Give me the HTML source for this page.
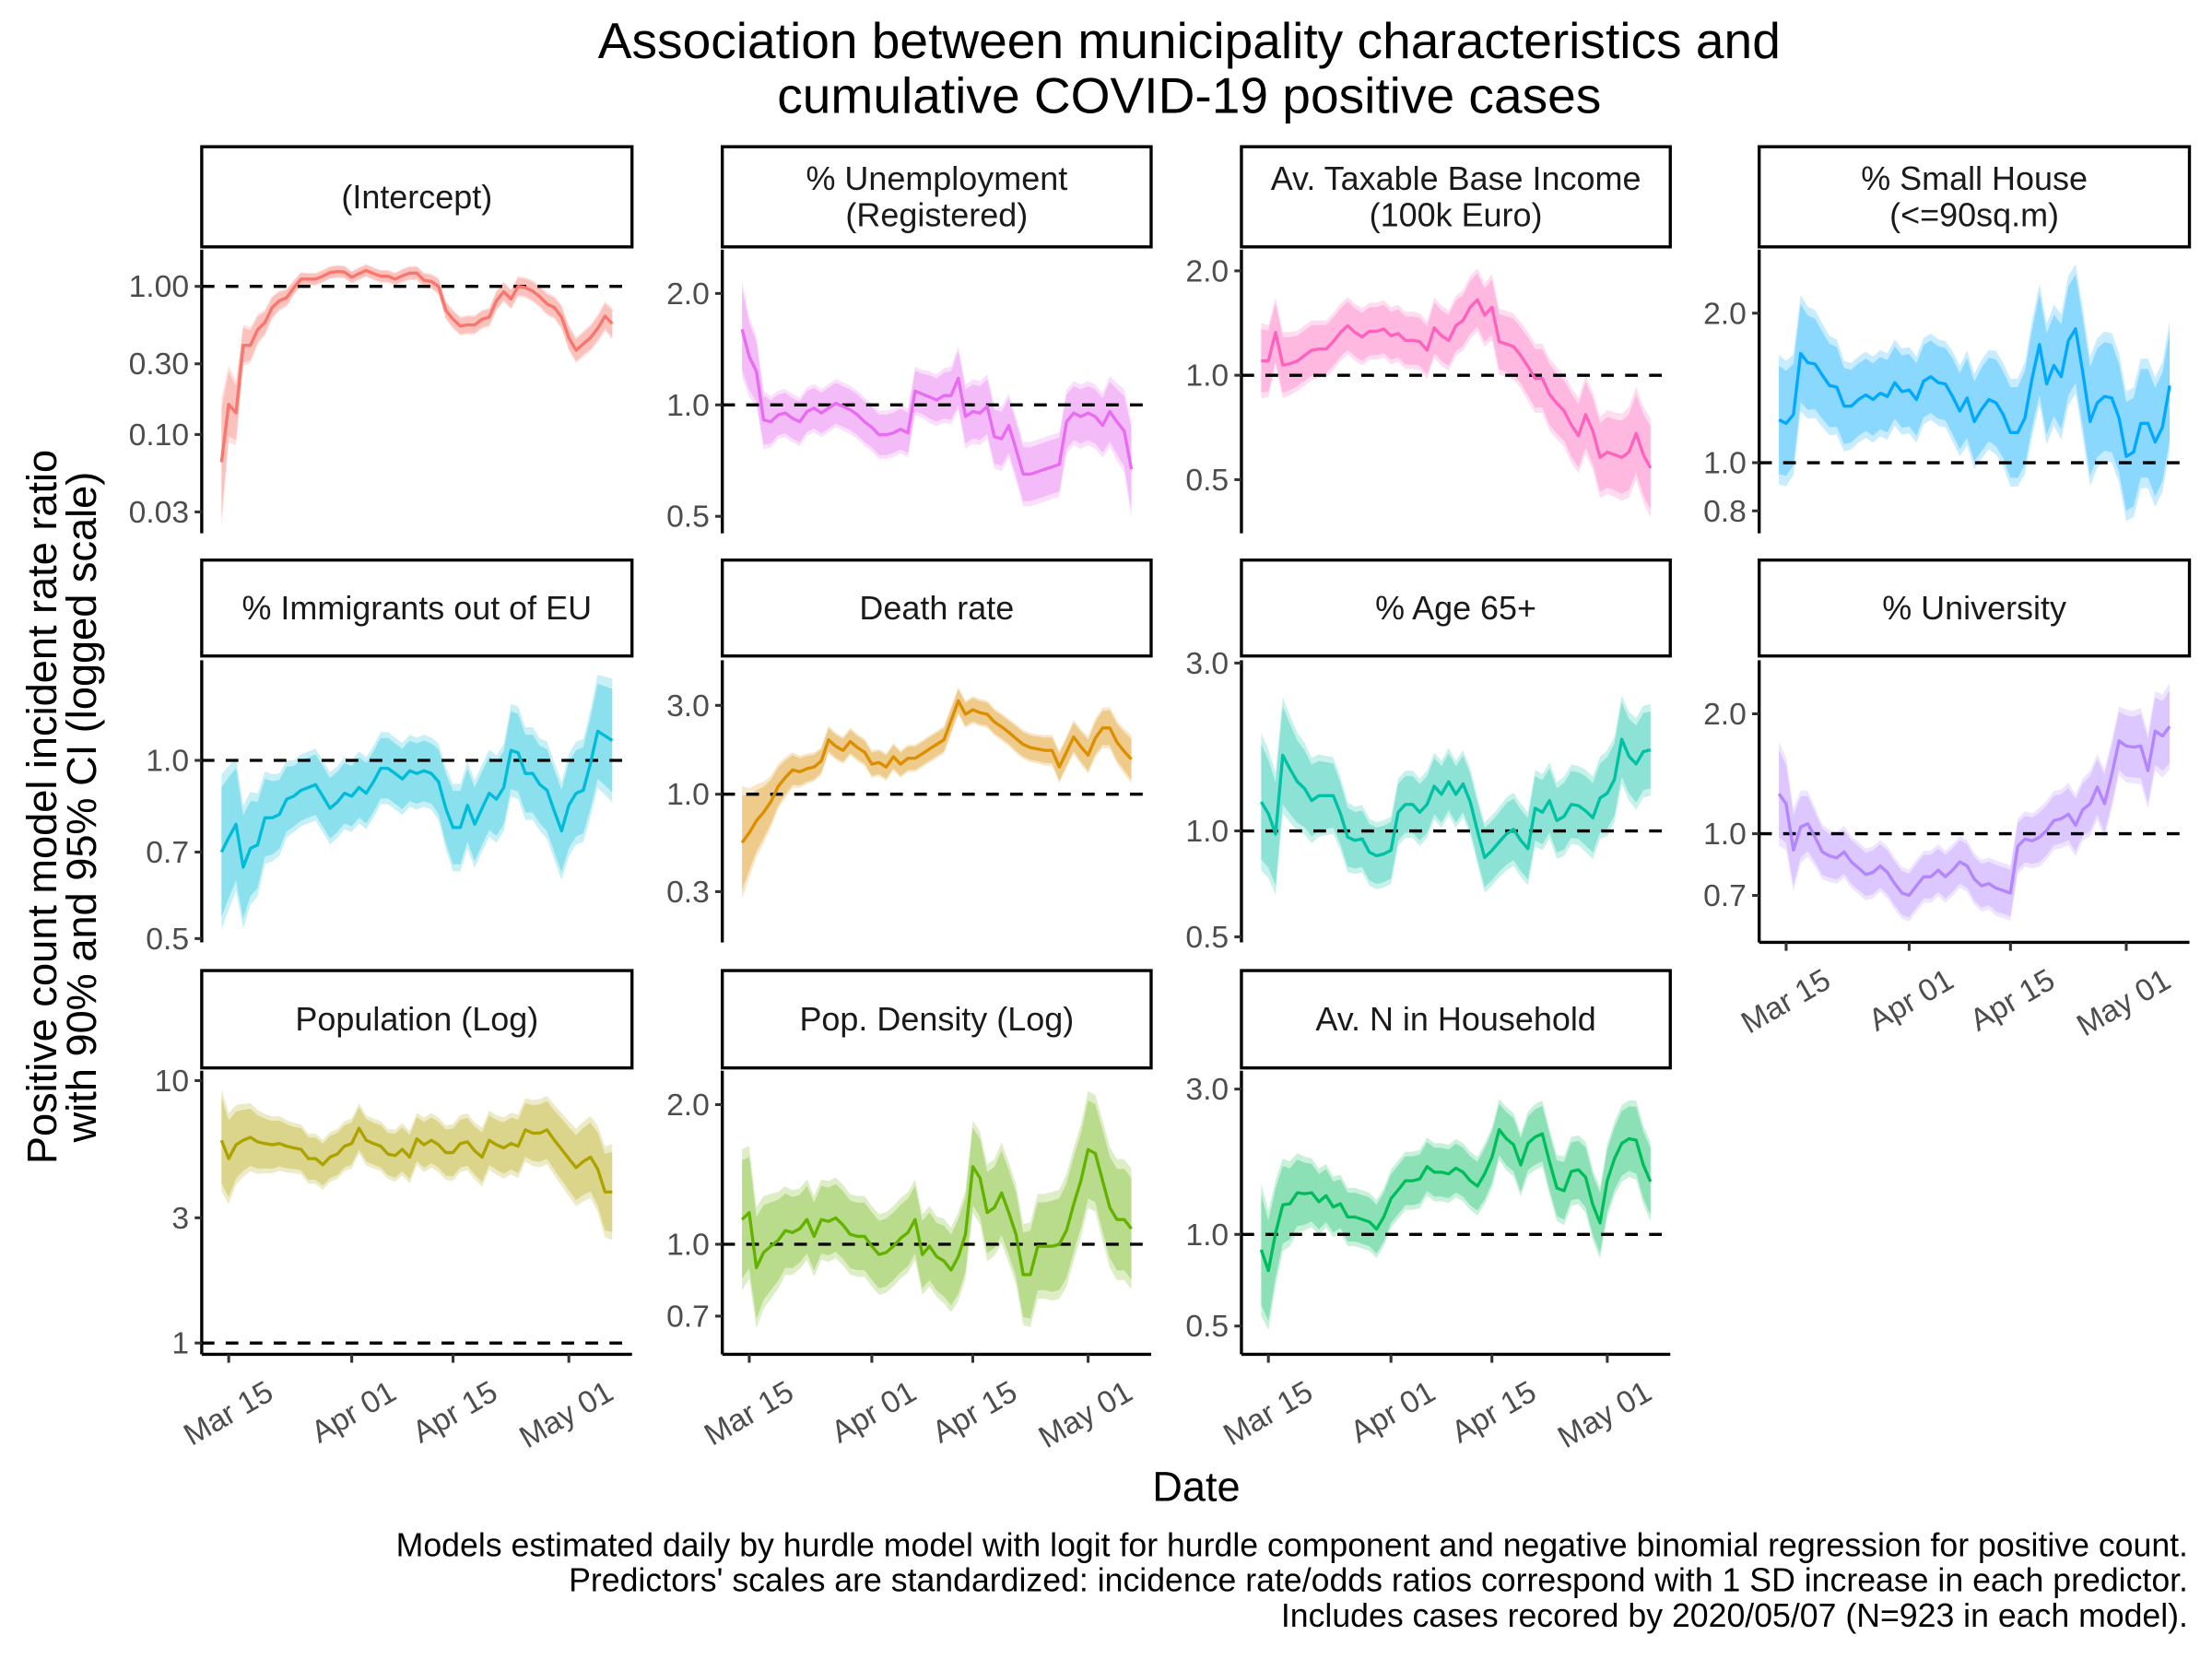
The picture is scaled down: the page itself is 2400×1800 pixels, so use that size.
<!DOCTYPE html>
<html><head><meta charset="utf-8">
<style>
html,body{margin:0;padding:0;background:#fff;}
svg{display:block;font-family:"Liberation Sans",Arial,sans-serif;}
</style></head>
<body>
<svg id="chart" width="2400" height="1800" viewBox="0 0 1568 1176" xmlns="http://www.w3.org/2000/svg">
<rect x="0" y="0" width="1568" height="1176" fill="#fff"/>
<text x="843" y="41" font-size="36" text-anchor="middle">Association between municipality characteristics and</text>
<text x="843" y="80" font-size="36" text-anchor="middle">cumulative COVID-19 positive cases</text>
<text transform="translate(40,572) rotate(-90)" font-size="29.5" text-anchor="middle">Positive count model incident rate ratio</text>
<text transform="translate(68,572) rotate(-90)" font-size="29.5" text-anchor="middle">with 90% and 95% CI (logged scale)</text>
<text x="848" y="1064" font-size="29.5" text-anchor="middle">Date</text>
<text x="1551" y="1103" font-size="23.3" text-anchor="end">Models estimated daily by hurdle model with logit for hurdle component and negative binomial regression for positive count.</text>
<text x="1551" y="1128" font-size="23.3" text-anchor="end">Predictors' scales are standardized: incidence rate/odds ratios correspond with 1 SD increase in each predictor.</text>
<text x="1551" y="1153" font-size="23.3" text-anchor="end">Includes cases recored by 2020/05/07 (N=923 in each model).</text>
<g id="panels"></g>
</svg>
<script>
// Shared date categories: Mar 14 .. May 7 (55 daily models)
const dayCount = 55;
const xTickLabels = ["Mar 15","Apr 01","Apr 15","May 01"];
const xTickDays = [1,18,32,48];

const panelTitles = ["(Intercept)","% Unemployment\n(Registered)","Av. Taxable Base Income\n(100k Euro)","% Small House\n(<=90sq.m)",
 "% Immigrants out of EU","Death rate","% Age 65+","% University",
 "Population (Log)","Pop. Density (Log)","Av. N in Household"];
const panelColors = ["#F8766D","#E76BF3","#FF62BC","#00A9FF","#00BCD8","#DB8E00","#00C1A3","#B385FF","#AEA200","#64B200","#00BD5C"];

const estIntercept = [0.065,0.16,0.14,0.40,0.40,0.51,0.57,0.72,0.80,0.84,0.98,1.12,1.12,1.12,1.17,1.24,1.26,1.25,1.15,1.22,1.28,1.22,1.17,1.17,1.12,1.18,1.23,1.23,1.10,1.08,1.00,0.69,0.60,0.54,0.55,0.55,0.60,0.62,0.80,0.92,0.82,1.00,0.98,0.93,0.85,0.76,0.72,0.62,0.45,0.37,0.41,0.45,0.52,0.63,0.56];
const estUnemp = [1.6,1.35,1.23,0.91,0.9,0.94,0.95,0.92,0.9,0.96,0.98,0.95,0.98,1.01,0.99,0.97,0.94,0.9,0.87,0.83,0.83,0.84,0.86,0.84,1.09,1.07,1.05,1.03,1.06,1.06,1.18,0.93,0.96,0.95,0.99,0.82,0.81,0.88,0.76,0.65,0.65,0.66,0.67,0.68,0.69,0.9,0.95,0.93,0.95,0.93,0.88,0.96,0.9,0.85,0.67];
const estIncome = [1.1,1.1,1.33,1.07,1.08,1.1,1.14,1.18,1.19,1.19,1.25,1.33,1.39,1.33,1.29,1.34,1.34,1.36,1.3,1.32,1.26,1.26,1.25,1.18,1.37,1.3,1.26,1.39,1.44,1.57,1.65,1.49,1.57,1.25,1.23,1.21,1.14,1.06,0.98,0.98,0.88,0.83,0.79,0.72,0.67,0.77,0.69,0.58,0.6,0.59,0.58,0.6,0.68,0.59,0.54];
const estSmallHouse = [1.22,1.2,1.25,1.66,1.59,1.58,1.5,1.43,1.42,1.3,1.3,1.34,1.37,1.34,1.38,1.36,1.45,1.39,1.4,1.34,1.46,1.49,1.45,1.44,1.36,1.27,1.35,1.21,1.28,1.34,1.32,1.25,1.15,1.15,1.23,1.48,1.73,1.44,1.57,1.49,1.76,1.86,1.52,1.21,1.32,1.36,1.35,1.23,1.03,1.05,1.2,1.2,1.1,1.18,1.43];
const estImmig = [0.70,0.74,0.78,0.66,0.71,0.72,0.80,0.80,0.81,0.86,0.87,0.89,0.90,0.91,0.87,0.83,0.85,0.88,0.87,0.90,0.88,0.92,0.97,0.97,0.95,0.93,0.96,0.95,0.96,0.95,0.92,0.83,0.77,0.77,0.84,0.78,0.83,0.88,0.86,0.90,1.04,1.03,0.95,0.95,0.91,0.89,0.82,0.76,0.84,0.88,0.89,0.99,1.12,1.10,1.08];
const estDeath = [0.55,0.62,0.72,0.80,0.91,1.10,1.23,1.35,1.32,1.37,1.40,1.51,1.96,1.81,1.72,1.92,1.78,1.68,1.45,1.48,1.40,1.59,1.45,1.56,1.56,1.65,1.75,1.85,1.96,2.49,3.17,2.69,2.84,2.74,2.69,2.44,2.30,2.15,1.99,1.85,1.78,1.75,1.72,1.72,1.40,1.68,2.03,1.80,1.62,2.00,2.27,2.27,1.90,1.70,1.54];
const estAge65 = [1.21,1.12,0.98,1.64,1.5,1.38,1.32,1.22,1.26,1.26,1.26,1.12,0.96,0.94,0.95,0.87,0.85,0.86,0.88,1.13,1.19,1.19,1.13,1.19,1.34,1.27,1.38,1.27,1.36,1.21,1.00,0.84,0.88,0.93,0.98,1.01,0.94,0.89,1.16,1.13,1.22,1.07,1.10,1.19,1.18,1.14,1.09,1.24,1.28,1.40,1.82,1.63,1.55,1.68,1.70];
const estUniv = [1.26,1.19,0.91,1.04,1.06,0.98,0.90,0.88,0.87,0.90,0.85,0.82,0.79,0.80,0.83,0.80,0.75,0.71,0.70,0.74,0.78,0.78,0.81,0.78,0.81,0.85,0.83,0.77,0.74,0.75,0.73,0.72,0.71,0.93,0.97,0.96,0.98,1.02,1.08,1.09,1.12,1.05,1.15,1.19,1.31,1.19,1.41,1.71,1.66,1.65,1.66,1.44,1.81,1.76,1.86];
const estPop = [5.92,5.04,5.69,5.92,6.08,5.84,5.76,5.69,5.76,5.62,5.54,5.47,5.04,5.04,4.78,5.11,5.25,5.62,5.76,6.58,5.92,5.76,5.62,5.25,5.18,5.47,5.11,6.0,5.69,5.92,5.69,5.32,5.32,5.76,5.84,5.40,5.11,5.92,5.69,5.54,5.76,5.62,6.49,6.31,6.31,6.49,5.92,5.47,5.04,4.66,4.92,5.11,4.60,3.76,3.76];
const estDensity = [1.13,1.17,0.89,0.96,0.99,1.02,1.07,1.06,1.08,1.13,1.04,1.13,1.12,1.14,1.10,1.05,1.04,1.04,0.99,0.95,0.96,0.99,1.03,1.06,1.13,0.95,0.99,0.94,0.92,0.88,0.94,1.05,1.47,1.39,1.17,1.20,1.29,1.17,1.05,0.86,0.86,0.99,0.99,0.99,1.0,1.07,1.22,1.37,1.60,1.57,1.37,1.20,1.13,1.13,1.08];
const estHousehold = [0.89,0.76,1.01,1.25,1.26,1.37,1.36,1.37,1.28,1.34,1.23,1.26,1.14,1.14,1.12,1.10,1.04,1.14,1.31,1.40,1.50,1.50,1.52,1.67,1.60,1.60,1.58,1.65,1.60,1.50,1.44,1.58,1.79,2.21,2.06,1.97,1.69,1.99,2.09,2.14,1.73,1.42,1.39,1.61,1.63,1.54,1.25,1.09,1.50,1.77,1.99,2.06,2.04,1.69,1.49];

// 95% CI half-widths on the log scale
const ciIntercept = [1.0,0.6,0.5,0.32,0.28,0.24,0.2,0.18,0.16,0.14,0.12,0.11,0.1,0.1,0.1,0.1,0.1,0.1,0.1,0.1,0.1,0.1,0.1,0.1,0.1,0.11,0.11,0.11,0.12,0.12,0.13,0.14,0.15,0.15,0.15,0.15,0.15,0.15,0.16,0.16,0.16,0.16,0.16,0.17,0.17,0.18,0.18,0.19,0.2,0.2,0.2,0.21,0.22,0.23,0.25];
const ciUnemp = [0.3,0.25,0.22,0.18,0.16,0.15,0.15,0.15,0.15,0.15,0.15,0.15,0.15,0.15,0.15,0.15,0.15,0.15,0.15,0.15,0.15,0.15,0.15,0.15,0.15,0.15,0.16,0.16,0.17,0.18,0.2,0.2,0.2,0.2,0.2,0.2,0.2,0.2,0.2,0.2,0.2,0.2,0.2,0.2,0.2,0.2,0.2,0.2,0.2,0.2,0.2,0.22,0.24,0.26,0.3];
const ciIncome = [0.25,0.24,0.23,0.22,0.21,0.2,0.2,0.2,0.19,0.19,0.19,0.19,0.19,0.19,0.19,0.19,0.19,0.19,0.19,0.19,0.19,0.19,0.19,0.19,0.2,0.2,0.2,0.2,0.2,0.21,0.21,0.21,0.22,0.22,0.22,0.22,0.22,0.23,0.23,0.23,0.24,0.24,0.24,0.25,0.25,0.26,0.26,0.27,0.28,0.28,0.29,0.3,0.31,0.32,0.33];
const ciSmallHouse = [0.3,0.29,0.28,0.27,0.26,0.25,0.24,0.23,0.22,0.21,0.2,0.2,0.2,0.2,0.2,0.2,0.2,0.2,0.2,0.2,0.2,0.2,0.2,0.2,0.21,0.21,0.22,0.22,0.23,0.23,0.24,0.24,0.25,0.25,0.26,0.27,0.28,0.28,0.28,0.29,0.3,0.3,0.3,0.3,0.3,0.3,0.3,0.3,0.3,0.3,0.3,0.3,0.3,0.3,0.3];
const ciImmig = [0.3,0.28,0.26,0.24,0.22,0.2,0.18,0.17,0.16,0.15,0.14,0.14,0.14,0.14,0.14,0.14,0.14,0.14,0.14,0.14,0.14,0.14,0.14,0.14,0.14,0.14,0.14,0.14,0.14,0.14,0.15,0.16,0.17,0.17,0.17,0.17,0.17,0.17,0.17,0.17,0.18,0.18,0.18,0.18,0.18,0.19,0.19,0.19,0.2,0.2,0.2,0.21,0.22,0.23,0.24];
const ciDeath = [0.7,0.55,0.45,0.38,0.32,0.28,0.25,0.22,0.2,0.19,0.18,0.17,0.17,0.17,0.17,0.17,0.17,0.17,0.17,0.17,0.17,0.17,0.17,0.17,0.17,0.17,0.17,0.17,0.17,0.17,0.17,0.17,0.17,0.17,0.17,0.17,0.17,0.17,0.18,0.18,0.18,0.18,0.19,0.19,0.2,0.2,0.21,0.22,0.23,0.24,0.25,0.26,0.27,0.28,0.3];
const ciAge65 = [0.45,0.42,0.4,0.38,0.35,0.32,0.3,0.28,0.27,0.26,0.25,0.24,0.23,0.22,0.22,0.22,0.22,0.22,0.22,0.22,0.22,0.22,0.22,0.22,0.22,0.22,0.22,0.22,0.22,0.22,0.22,0.23,0.23,0.23,0.24,0.24,0.24,0.24,0.25,0.25,0.25,0.25,0.26,0.26,0.26,0.27,0.27,0.27,0.28,0.28,0.29,0.29,0.3,0.3,0.3];
const ciUniv = [0.3,0.27,0.24,0.21,0.19,0.17,0.16,0.15,0.15,0.15,0.15,0.15,0.15,0.15,0.15,0.15,0.15,0.15,0.15,0.15,0.15,0.15,0.15,0.15,0.15,0.15,0.15,0.15,0.15,0.15,0.16,0.16,0.16,0.16,0.16,0.16,0.17,0.17,0.17,0.17,0.18,0.18,0.18,0.19,0.19,0.2,0.2,0.2,0.21,0.21,0.22,0.22,0.23,0.24,0.25];
const ciPop = [0.45,0.4,0.35,0.32,0.3,0.28,0.26,0.25,0.24,0.23,0.22,0.22,0.22,0.22,0.22,0.22,0.22,0.22,0.22,0.22,0.22,0.22,0.22,0.22,0.23,0.23,0.23,0.23,0.24,0.24,0.24,0.24,0.25,0.25,0.25,0.25,0.26,0.26,0.26,0.27,0.27,0.28,0.28,0.29,0.3,0.3,0.31,0.32,0.33,0.34,0.35,0.36,0.38,0.4,0.42];
const ciDensity = [0.35,0.33,0.3,0.28,0.26,0.24,0.22,0.21,0.2,0.2,0.2,0.2,0.2,0.2,0.2,0.2,0.2,0.2,0.2,0.2,0.2,0.2,0.2,0.2,0.2,0.2,0.2,0.2,0.21,0.21,0.22,0.22,0.23,0.23,0.24,0.24,0.25,0.25,0.25,0.25,0.26,0.26,0.26,0.27,0.27,0.28,0.28,0.28,0.29,0.29,0.3,0.3,0.3,0.3,0.3];
const ciHousehold = [0.5,0.45,0.4,0.35,0.32,0.3,0.28,0.26,0.25,0.24,0.23,0.22,0.22,0.22,0.22,0.22,0.22,0.22,0.22,0.22,0.22,0.22,0.22,0.22,0.22,0.22,0.22,0.22,0.22,0.22,0.22,0.23,0.23,0.23,0.24,0.24,0.24,0.24,0.25,0.25,0.25,0.25,0.26,0.26,0.26,0.27,0.27,0.27,0.28,0.28,0.29,0.29,0.3,0.3,0.3];

const yTicks = [[1,0.3,0.1,0.03],[2,1,0.5],[2,1,0.5],[2,1,0.8],[1,0.7,0.5],[3,1,0.3],[3,1,0.5],[2,1,0.7],[10,3,1],[2,1,0.7],[3,1,0.5]];
const yTickText = [["1.00","0.30","0.10","0.03"],["2.0","1.0","0.5"],["2.0","1.0","0.5"],["2.0","1.0","0.8"],["1.0","0.7","0.5"],["3.0","1.0","0.3"],["3.0","1.0","0.5"],["2.0","1.0","0.7"],["10","3","1"],["2.0","1.0","0.7"],["3.0","1.0","0.5"]];

const estimates = [estIntercept,estUnemp,estIncome,estSmallHouse,estImmig,estDeath,estAge65,estUniv,estPop,estDensity,estHousehold];
const cis = [ciIntercept,ciUnemp,ciIncome,ciSmallHouse,ciImmig,ciDeath,ciAge65,ciUniv,ciPop,ciDensity,ciHousehold];

// layout (viewBox units)
const colL = [143,512,880,1247], colR = [448,816,1184,1552];
const stripTop = [104,397,688], stripBot = [175,465,757];
const plotTop = [177,468,759], plotBot = [378,668,960];
// per-panel log axis calibration: [value A, pixel A, value B, pixel B]
const yCal = [[1,203,0.1,308],[2,208,1,287],[2,192,1,266],[2,222,1,328],[1,539,0.7,604],[3,500,1,563],[3,470,1,589],[2,506,1,591],[10,766,1,952],[2,783,1,882],[3,772,1,875]];

const NS = "http://www.w3.org/2000/svg";
const root = document.getElementById("panels");
function mk(tag, attrs, parent){ const e=document.createElementNS(NS,tag); for(const k in attrs) e.setAttribute(k,attrs[k]); (parent||root).appendChild(e); return e; }

for(let p=0;p<11;p++){
  const r=Math.floor(p/4), c=p%4;
  const L=colL[c], R=colR[c], T=plotTop[r], B=plotBot[r];
  const g = mk("g",{});
  
  
  const xs = d => L + 14 + d*(R-L-28)/(dayCount-1);
  const cal=yCal[p];
  const k=(cal[3]-cal[1])/(Math.log(cal[2])-Math.log(cal[0]));
  const ys = v => cal[1] + k*(Math.log(v)-Math.log(cal[0]));
  const clip = "clip"+p;
  const cp = mk("clipPath",{id:clip},g); mk("rect",{x:L,y:T,width:R-L,height:B-T},cp);
  const est=estimates[p], ci=cis[p], col=panelColors[p];
  const band=(f)=>{
    let up=[],dn=[];
    est.forEach((v,i)=>{ up.push(xs(i).toFixed(1)+","+ys(v*Math.exp(ci[i]*f)).toFixed(1)); dn.unshift(xs(i).toFixed(1)+","+ys(v*Math.exp(-ci[i]*f)).toFixed(1)); });
    return up.concat(dn).join(" ");
  };
  const b95 = mk("polygon",{points:band(1),fill:col,"fill-opacity":"0.22","clip-path":"url(#"+clip+")"},g);
  
  
  const b90 = mk("polygon",{points:band(1.645/1.96),fill:col,"fill-opacity":"0.3","clip-path":"url(#"+clip+")"},g);
  
  
  const ref = mk("line",{x1:L,x2:R,y1:ys(1),y2:ys(1),stroke:"#000","stroke-width":"2.2","stroke-dasharray":"9,8"},g);
  
  
  const line = mk("polyline",{points:est.map((v,i)=>xs(i).toFixed(1)+","+ys(v).toFixed(1)).join(" "),fill:"none",stroke:col,"stroke-width":"2.2","stroke-linejoin":"round","clip-path":"url(#"+clip+")"},g);
  
  
  const ya = mk("line",{x1:L,x2:L,y1:T,y2:B,stroke:"#000","stroke-width":"2.2"},g);
  
  
  yTicks[p].forEach((t,j)=>{
    mk("line",{x1:L-5,x2:L,y1:ys(t),y2:ys(t),stroke:"#333","stroke-width":"2"},g);
    const tl = mk("text",{x:L-9,y:ys(t)+7.5,"font-size":"22",fill:"#4d4d4d","text-anchor":"end"},g);
    tl.textContent=yTickText[p][j];
    
    
  });
  const st = mk("rect",{x:L,y:stripTop[r],width:R-L,height:stripBot[r]-stripTop[r],fill:"#fff",stroke:"#000","stroke-width":"2.2"},g);
  
  
  const lines = panelTitles[p].split("\n");
  const cy=(stripTop[r]+stripBot[r])/2;
  lines.forEach((s,j)=>{
    const tt = mk("text",{x:(L+R)/2,y:cy+8+(j-(lines.length-1)/2)*26,"font-size":"23.5","text-anchor":"middle",fill:"#1a1a1a"},g);
    tt.textContent=s;
    
    
  });
  if(r===2 || p===7){
    const xa = mk("line",{x1:L,x2:R,y1:B,y2:B,stroke:"#000","stroke-width":"2.2"},g);
    
    
    xTickDays.forEach((d,j)=>{
      const x=xs(d);
      mk("line",{x1:x,x2:x,y1:B,y2:B+6,stroke:"#333","stroke-width":"2"},g);
      const xl = mk("text",{x:x+33,y:B+31,"font-size":"22",fill:"#4d4d4d","text-anchor":"end",transform:"rotate(-30 "+(x+33)+" "+(B+31)+")"},g);
      xl.textContent=xTickLabels[j];
      
      
    });
  }
}
</script>
</body></html>
